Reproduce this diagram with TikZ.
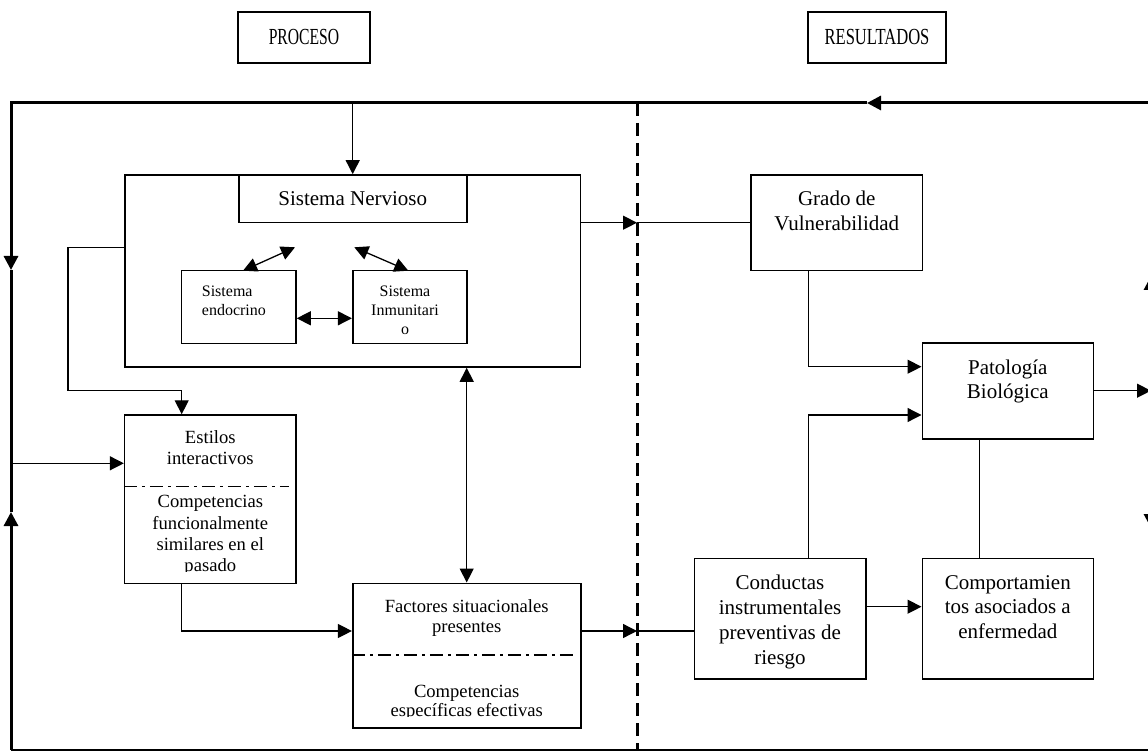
\documentclass[tikz,border=0pt]{standalone}
\usepackage{fontspec}
\usepackage{graphicx}
\setmainfont{Liberation Serif}
\usetikzlibrary{arrows.meta}
\tikzset{
  rbox/.style 2 args={draw, line width=1.6pt, inner sep=0pt, minimum width=#1, minimum height=#2},
  conn/.style={line width=1.3pt},
  thk/.style={line width=3pt},
  thkb/.style={line width=2pt},
  dashdot/.style={line width=1.3pt, dash pattern=on 13pt off 5pt on 3pt off 5pt},
  bigdash/.style={line width=3pt, dash pattern=on 12.7pt off 7.3pt},
  txt/.style={inner sep=0pt, align=center, anchor=north},
  f21/.style={font=\fontsize{21}{25}\selectfont},
  f19/.style={font=\fontsize{18.6}{21}\selectfont},
  f16/.style={font=\fontsize{16}{18.6}\selectfont},
  ttl/.style={font=\fontsize{23}{26}\selectfont},
  >={Triangle[length=14pt,width=14pt]}
}
\begin{document}
\begin{tikzpicture}[x=1pt,y=-1pt]
\useasboundingbox (0,0) rectangle (1148,751);
\clip (0,0) rectangle (1148,751);

% titles
\node[rbox={132pt}{51pt}, ttl] (proceso) at (304,37.5) {\scalebox{0.68}[1]{PROCESO}};
\node[rbox={138pt}{51pt}, ttl] (resultados) at (877,37.5) {\scalebox{0.72}[1]{RESULTADOS}};

% boxes
\node[rbox={455.6pt}{192pt}] (nerv) at (352.5,271) {};
\node[rbox={228pt}{47.7pt}] (sn) at (352.7,198.8) {};
\node[rbox={114.3pt}{72.6pt}] (endo) at (238.8,307) {};
\node[rbox={114pt}{72.6pt}] (inmu) at (409.7,307) {};
\node[rbox={171.3pt}{168.3pt}] (estilos) at (210.3,499.2) {};
\node[rbox={228pt}{144.4pt}] (factores) at (466.7,655.5) {};
\node[rbox={171.7pt}{95.7pt}] (grado) at (836.8,222.8) {};
\node[rbox={171pt}{96pt}] (pato) at (1007.8,390.7) {};
\node[rbox={171.4pt}{120.7pt}] (cond) at (780,618.7) {};
\node[rbox={171pt}{120.7pt}] (comp) at (1007.8,618.7) {};

% texts
\node[txt, f21] (snt) at (352.7,191.6) {Sistema Nervioso};
\node[txt, f16, align=left, anchor=north west] (endot) at (201.7,286.1) {Sistema\\endocrino};
\node[txt, f16] (inmut) at (405,286.1) {Sistema\\Inmunitari\\o};
\node[txt, f19] (estt) at (210.3,430.5) {Estilos\\interactivos};
\begin{scope}
  \clip (124.7,490) rectangle (296,571.5);
  \node[txt, font=\fontsize{18.6}{21.4}\selectfont] (estt2) at (210.3,495.2) {Competencias\\funcionalmente\\similares en el\\pasado};
\end{scope}
\node[txt, font=\fontsize{18.6}{20}\selectfont] (fact) at (466.7,599.5) {Factores situacionales\\presentes};
\begin{scope}
  \clip (352.7,660) rectangle (580.7,716.7);
  \node[txt, font=\fontsize{18.6}{19}\selectfont] (fact2) at (466.7,685.2) {Competencias\\específicas efectivas};
\end{scope}
\node[txt, f21] (gradot) at (836.8,191) {Grado de\\Vulnerabilidad};
\node[txt, font=\fontsize{21}{24}\selectfont] (patot) at (1007.8,359.3) {Patología\\Biológica};
\node[txt, f21] (condt) at (780,574.3) {Conductas\\instrumentales\\preventivas de\\riesgo};
\node[txt, font=\fontsize{21}{24.5}\selectfont] (compt) at (1007.8,575.3) {Comportamien\\tos asociados a\\enfermedad};

% coordinates
\coordinate (TL) at (11,103);
\coordinate (TR) at (1151,103);
\coordinate (BL) at (11,749.5);
\coordinate (BR) at (1151,749.5);
\coordinate (topArr) at (867,103);
\coordinate (lArr1) at (11,270);
\coordinate (lArr2) at (11,512);
\coordinate (rUp) at (1151,276);
\coordinate (rDown) at (1151,528);
\coordinate (rMid) at (1151,390.7);
\coordinate (topSN) at (352.7,103);
\coordinate (dashTop) at (637,103);
\coordinate (dashBot) at (637,755);
\coordinate (dA) at (637,222.7);
\coordinate (dB) at (637,631);
\coordinate (lE) at (11,463.3);
\coordinate (k1) at (68,247.3);
\coordinate (k2) at (68,390.7);
\coordinate (k3) at (181.7,390.7);
\coordinate (k4) at (181.7,631);
\coordinate (k5) at (466.7,450);
\coordinate (k6) at (808.3,366.7);
\coordinate (k7) at (808.3,415);
\coordinate (k8) at (979.3,500);
\coordinate (k9) at (900,606.7);
\coordinate (k10) at (320,318.3);
\coordinate (k11) at (289.3,486.7);
\coordinate (k12) at (577,655);
\coordinate (d1) at (243,270.7);
\coordinate (d2) at (295,247.3);
\coordinate (d3) at (354.3,247.3);
\coordinate (d4) at (408.3,270.7);

% dashed divider
\draw[bigdash] (dashTop) -- (dashBot);

% thick frame
\draw[thk,->] (TR) -- (topArr);
\draw[thk,->] (topArr) -- (TL) -- (lArr1);
\draw[thk] (lArr1) -- (lArr2);
\draw[thkb] (BR) -- (BL);
\draw[thk,->] (BL) -- (lArr2);
\draw[thk,->] (rMid) -- (rUp);
\draw[thk] (rUp) -- (TR);
\draw[thk,->] (rMid) -- (rDown);
\draw[thk] (rDown) -- (BR);

% connectors
\draw[conn,->] (topSN) -- (sn.north);
\draw[conn,->] (lE) -- (lE -| estilos.west);
\draw[conn,->] (k1 -| nerv.west) -- (k1) -- (k2) -- (k3) -- (k3 |- estilos.north);
\draw[conn,->] (k4 |- estilos.south) -- (k4) -- (k4 -| factores.west);
\draw[conn,<->] (k5 |- nerv.south) -- (k5 |- factores.north);
\draw[conn,->] (dA -| nerv.east) -- (dA);
\draw[conn] (dA) -- (dA -| grado.west);
\draw[conn,->] (dB -| factores.east) -- (dB);
\draw[conn] (dB) -- (dB -| cond.west);
\draw[conn,->] (k6 |- grado.south) -- (k6) -- (k6 -| pato.west);
\draw[conn,->] (k7 |- cond.north) -- (k7) -- (k7 -| pato.west);
\draw[conn] (k8 |- pato.south) -- (k8 |- comp.north);
\draw[conn,->] (k9 -| cond.east) -- (k9 -| comp.west);
\draw[conn,->] (pato.east) -- (rMid);
\draw[conn,<->] (endo.east |- k10) -- (inmu.west |- k10);
\draw[conn,<->] (d1) -- (d2);
\draw[conn,<->] (d3) -- (d4);

% dash-dot separators
\draw[dashdot] (estilos.west |- k11) -- (k11);
\draw[dashdot] (factores.west |- k12) -- (k12);
\end{tikzpicture}
\end{document}
